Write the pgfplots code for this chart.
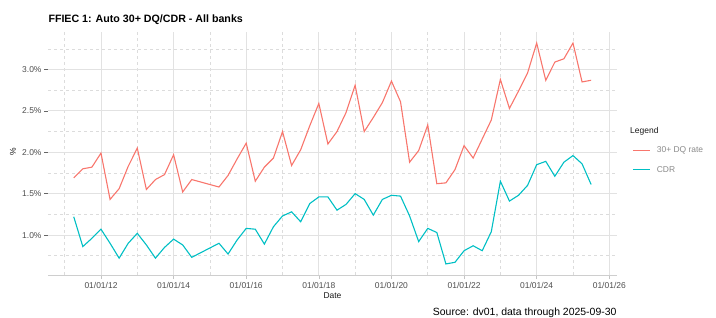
\documentclass[border=0pt]{standalone}
\usepackage{fontspec}
\setmainfont{Liberation Sans}
\usepackage{pgfplots}
\pgfplotsset{compat=1.18}
\usepackage{pgfplotstable}
\definecolor{redl}{HTML}{F8766D}
\definecolor{cyanl}{HTML}{00BFC4}
\definecolor{majgrid}{HTML}{E2E2E2}
\definecolor{mingrid}{HTML}{DCDCDC}
\definecolor{ticktext}{HTML}{4D4D4D}
\definecolor{legtext}{HTML}{8A8A8A}

\pgfplotstableread{
t dq cdr
2011.25 1.69 1.22
2011.50 1.80 0.86
2011.75 1.82 0.96
2012.00 1.99 1.07
2012.25 1.43 0.90
2012.50 1.56 0.72
2012.75 1.83 0.90
2013.00 2.05 1.02
2013.25 1.55 0.88
2013.50 1.67 0.72
2013.75 1.73 0.85
2014.00 1.97 0.95
2014.25 1.52 0.88
2014.50 1.67 0.73
2015.25 1.58 0.90
2015.50 1.72 0.77
2015.75 1.92 0.94
2016.00 2.11 1.08
2016.25 1.65 1.07
2016.50 1.82 0.89
2016.75 1.93 1.10
2017.00 2.25 1.23
2017.25 1.84 1.28
2017.50 2.03 1.16
2017.75 2.32 1.38
2018.00 2.59 1.46
2018.25 2.10 1.46
2018.50 2.25 1.30
2018.75 2.48 1.37
2019.00 2.81 1.50
2019.25 2.25 1.43
2019.50 2.42 1.24
2019.75 2.60 1.43
2020.00 2.86 1.48
2020.25 2.61 1.47
2020.50 1.88 1.23
2020.75 2.02 0.92
2021.00 2.33 1.08
2021.25 1.62 1.03
2021.50 1.63 0.65
2021.75 1.79 0.67
2022.00 2.08 0.81
2022.25 1.93 0.87
2022.50 2.16 0.81
2022.75 2.39 1.04
2023.00 2.88 1.65
2023.25 2.53 1.41
2023.50 2.74 1.48
2023.75 2.96 1.60
2024.00 3.32 1.85
2024.25 2.87 1.89
2024.50 3.09 1.71
2024.75 3.13 1.88
2025.00 3.32 1.96
2025.25 2.85 1.86
2025.50 2.87 1.61
}\data

\begin{document}
\begin{tikzpicture}
\path[use as bounding box] (0,0) rectangle (716bp,318bp);
\begin{axis}[
  at={(48.3bp,43bp)}, anchor=south west,
  width=568.4bp, height=243bp, scale only axis,
  xmin=2010.549, xmax=2026.204, ymin=0.5165, ymax=3.4535,
  xtick={2012,2014,2016,2018,2020,2022,2024,2026},
  xticklabels={01/01/12,01/01/14,01/01/16,01/01/18,01/01/20,01/01/22,01/01/24,01/01/26},
  minor xtick={2011,2013,2015,2017,2019,2021,2023,2025},
  ytick={1,1.5,2,2.5,3},
  yticklabels={1.0\%,1.5\%,2.0\%,2.5\%,3.0\%},
  minor ytick={0.75,1.25,1.75,2.25,2.75,3.25},
  grid=both,
  major grid style={majgrid, line width=0.8bp},
  minor grid style={mingrid, line width=0.6bp, dash pattern=on 3bp off 3bp},
  axis x line*=bottom, axis y line*=left,
  axis line style={-},
  x axis line style={majgrid!80!gray, line width=0.8bp},
  y axis line style={draw=none},
  tick align=outside,
  major tick length=4bp, minor tick length=0pt,
  xtick style={majgrid!70!gray, line width=0.6bp},
  ytick style={black!60, line width=0.6bp},
  /pgf/number format/assume math mode=true,
  xticklabel style={font=\fontsize{8.5}{10}\selectfont, text=ticktext, inner sep=0pt, text height=6.1bp, text depth=0pt, anchor=north, yshift=-3.3bp},
  yticklabel style={font=\fontsize{8.5}{10}\selectfont, text=ticktext, inner sep=0pt, text height=6.1bp, text depth=0pt, anchor=east, xshift=-2.6bp},
  legend style={at={(1.0275,0.473)}, anchor=west, draw=none, fill=none,
    inner sep=0pt, outer sep=0pt, row sep=11.7bp, column sep=6.4bp,
    font=\fontsize{8.5}{10}\selectfont, text=legtext,
    nodes={inner sep=0pt, text height=6.2bp, text depth=1.8bp}},
  legend cell align=left,
  legend image code/.code={\draw[#1, line width=1.1bp] (0bp,0bp) -- (17bp,0bp);},
  clip=false,
]
\addplot[redl, line width=1.1bp, mark=none] table[x=t, y=dq] {\data};
\addlegendentry{30+ DQ rate}
\addplot[cyanl, line width=1.1bp, mark=none] table[x=t, y=cdr] {\data};
\addlegendentry{CDR}
\node[anchor=base west, font=\fontsize{8.5}{10}\selectfont, text=black!90, inner sep=0pt] at (rel axis cs:1.0234,0.5831) {Legend};
\end{axis}
\node[anchor=base west, font=\fontsize{10.7}{12}\selectfont\bfseries, inner sep=0pt] at (48.3bp,295.3bp) {FFIEC 1: Auto 30+ DQ/CDR - All banks};
\node[anchor=base, font=\fontsize{8.5}{10}\selectfont, text=black!90, inner sep=0pt] at (332.5bp,19.7bp) {Date};
\node[anchor=center, rotate=90, font=\fontsize{8.5}{10}\selectfont, text=black!90, inner sep=0pt] at (13bp,166bp) {\%};
\node[anchor=base east, font=\fontsize{10.5}{12}\selectfont, inner sep=0pt] at (616.7bp,2.3bp) {Source: dv01, data through 2025-09-30};
\end{tikzpicture}
\end{document}
